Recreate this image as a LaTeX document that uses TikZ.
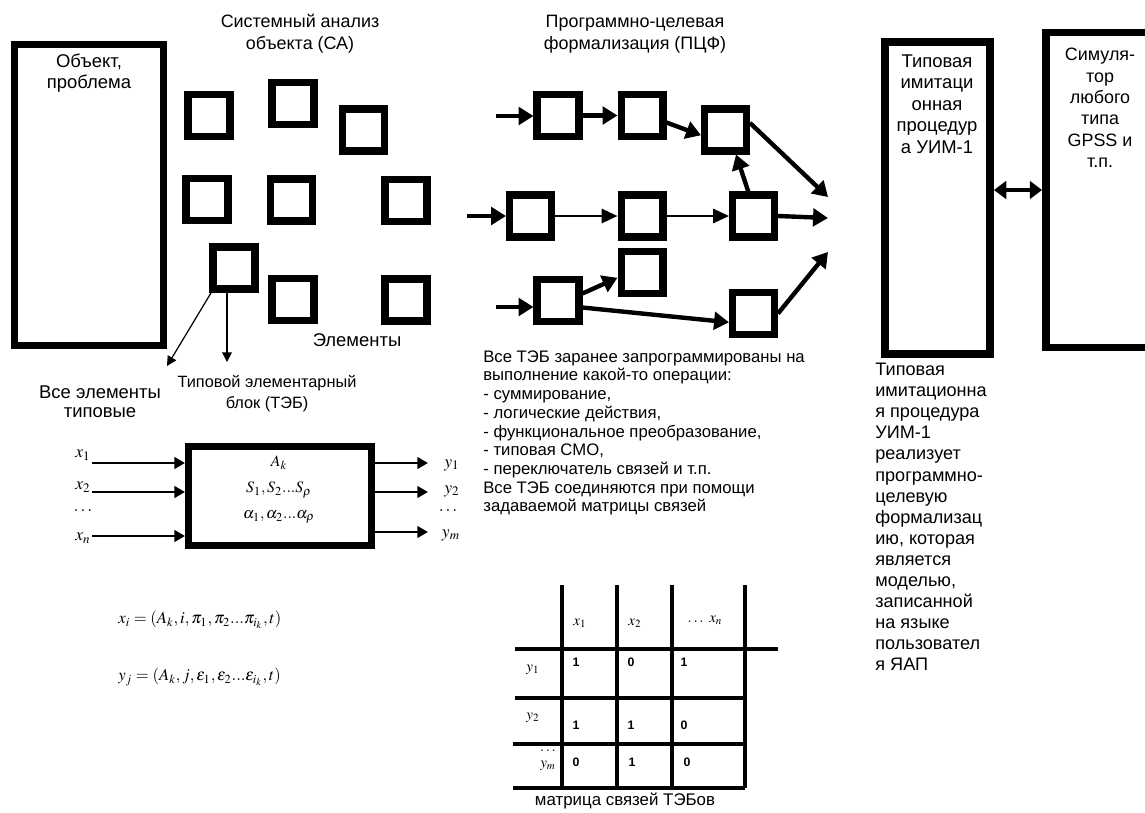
\documentclass[tikz,border=0pt]{standalone}
\usepackage{mathptmx}
\usepackage[no-math]{fontspec}
\setmainfont{Liberation Sans}
\usetikzlibrary{arrows.meta}
\begin{document}
\begin{tikzpicture}[x=0.02cm,y=-0.02cm,
  sq/.style={draw, line width=4pt, minimum width=0.84cm, minimum height=0.84cm, inner sep=0pt},
  bigbox/.style={draw, line width=4pt, inner sep=0pt},
  thickarr/.style={line width=2.5pt, -{Triangle[length=8.5pt,width=10pt]}},
  thinarr/.style={line width=1.5pt, -{Triangle[length=9pt,width=8pt]}},
  tebarr/.style={line width=1.5pt, -{Triangle[length=6pt,width=6.5pt]}},
  fine/.style={line width=0.7pt, -{Triangle[length=5.5pt,width=5.5pt]}},
  dbl/.style={line width=2pt, {Triangle[length=7pt,width=10pt]}-{Triangle[length=7pt,width=10pt]}},
  mline/.style={line width=2.2pt},
  ttl/.style={align=center, inner sep=0pt, font=\fontsize{10.2}{12.5}\selectfont},
  lbl/.style={inner sep=0pt, font=\fontsize{10.3}{12.2}\selectfont},
  mth/.style={inner sep=0pt, font=\fontsize{10}{12}\selectfont},
  sml/.style={inner sep=0pt, font=\fontsize{8.5}{10}\selectfont},
  dig/.style={inner sep=0pt, font=\fontsize{7}{8}\selectfont\bfseries}]
\clip (0,0) rectangle (1145,812);
\fill[white] (0,0) rectangle (1145,812);

% Object box
\node[bigbox, minimum width=2.99cm, minimum height=6.03cm] (obj) at (89,195) {};
\node[lbl, align=center, font=\fontsize{10.5}{12}\selectfont] (objt) at (89,73) {Объект,\\проблема};

% Titles
\node[ttl] (sa) at (300,34) {Системный анализ\\объекта (СА)};
\node[ttl] (pcf) at (635,34) {Программно-целевая\\формализация (ПЦФ)};

% Element squares
\node[sq] (e1) at (209,115.5) {};
\node[sq] (e2) at (293,103.5) {};
\node[sq] (e3) at (363.5,130) {};
\node[sq] (e4) at (207,199.5) {};
\node[sq] (e5) at (291.5,200) {};
\node[sq] (e6) at (406,200.5) {};
\node[sq] (e7) at (234,268) {};
\node[sq] (e8) at (293,299.5) {};
\node[sq] (e9) at (406,300) {};

\node[lbl, font=\fontsize{10.5}{12}\selectfont] (elem) at (357,340) {Элементы};
\coordinate (tA) at (167,366);
\coordinate (tB) at (227,362);
\draw[fine] ([xshift=1pt]e7.south west) -- (tA);
\draw[fine] (tB |- e7.south) -- (tB);
\node[lbl, align=center, font=\fontsize{10.5}{11}\selectfont] (allt) at (100,402) {Все элементы\\типовые};
\node[lbl, align=center, font=\fontsize{9.3}{11.9}\selectfont] (tebt) at (267,394) {Типовой элементарный\\блок (ТЭБ)};

% Graph squares
\node[sq] (A1) at (558,115.5) {};
\node[sq] (A2) at (642,115.5) {};
\node[sq] (A3) at (725.5,130) {};
\node[sq] (B1) at (530.5,216) {};
\node[sq] (B2) at (642,216) {};
\node[sq] (B3) at (753.5,216) {};
\node[sq] (C1) at (558,300.5) {};
\node[sq] (C2) at (642,272.5) {};
\node[sq] (C3) at (753.5,313.5) {};

\coordinate (inA) at (496,116);
\coordinate (inB) at (467,216);
\coordinate (inC) at (496,307);
\coordinate (oA) at (828,197);
\coordinate (oB) at (828,218);
\coordinate (oC) at (828,252);

\draw[thickarr] (inA) -- (inA -| A1.west);
\draw[thickarr] (inB) -- (inB -| B1.west);
\draw[thickarr] (inC) -- (inC -| C1.west);
\draw[thickarr] (A1.east) -- (A2.west);
\draw[thickarr] ([yshift=-4pt]A2.east) -- ([yshift=-3pt]A3.west);
\draw[thinarr] (B1.east) -- (B2.west);
\draw[thinarr] (B2.east) -- (B3.west);
\draw[thickarr] ([xshift=-3pt]B3.north) -- ([xshift=6pt]A3.south);
\draw[thickarr] ([yshift=4pt]C1.east) -- ([yshift=-3pt]C2.west);
\draw[thickarr] ([yshift=-4pt]C1.east) -- ([yshift=-5pt]C3.west);
\draw[thickarr] ([yshift=4pt]A3.east) -- (oA);
\draw[thickarr] (B3.east) -- (oB);
\draw[thickarr] (C3.east) -- (oC);

% Text block
\node[lbl, anchor=west, align=left, font=\fontsize{9.5}{10.65}\selectfont] (ops) at (483,433) {Все ТЭБ заранее запрограммированы на\\выполнение какой-то операции:\\- суммирование,\\- логические действия,\\- функциональное преобразование,\\- типовая СМО,\\- переключатель связей и т.п.\\Все ТЭБ соединяются при помощи\\задаваемой матрицы связей};

% UIM and simulator
\node[bigbox, line width=4.5pt, minimum width=2.1cm, minimum height=6.24cm] (uim) at (937.5,198) {};
\node[lbl, align=center, font=\fontsize{10.5}{12.3}\selectfont] (uimt) at (937,104) {Типовая\\имитаци\\онная\\процедур\\а УИМ-1};
\node[bigbox, line width=4.5pt, minimum width=2.16cm, minimum height=6.3cm] (sim) at (1100,190) {};
\node[lbl, align=center, font=\fontsize{10.2}{12.2}\selectfont] (simt) at (1100,108) {Симуля-\\тор\\любого\\типа\\GPSS и\\т.п.};
\draw[dbl] (sim.west -| uim.east) -- (sim.west);

\node[lbl, anchor=west, align=left, font=\fontsize{10.3}{12}\selectfont] (desc) at (875,517) {Типовая\\имитационна\\я процедура\\УИМ-1\\реализует\\программно-\\целевую\\формализац\\ию, которая\\является\\моделью,\\записанной\\на языке\\пользовател\\я ЯАП};

% TEB block
\node[bigbox, minimum width=3.66cm, minimum height=1.98cm] (teb) at (280,496) {};
\node[mth, font=\fontsize{9}{10}\selectfont] (ak) at (279,463) {$A_k$};
\node[mth, font=\fontsize{9}{10}\selectfont] (sk) at (279,490) {$S_1,S_2...S_\rho$};
\node[mth, font=\fontsize{9}{10}\selectfont] (al) at (279,517) {$\alpha_1,\alpha_2...\alpha_\rho$};
\node[mth] (lx1) at (83,455) {$x_1$};
\node[mth] (lx2) at (83,487) {$x_2$};
\node[mth] (ldx) at (83,511) {$\ldots$};
\node[mth] (lxn) at (83,538) {$x_n$};
\coordinate (x1s) at (92,463);
\coordinate (x2s) at (92,492);
\coordinate (xns) at (92,536);
\draw[tebarr] (x1s) -- (x1s -| teb.west);
\draw[tebarr] (x2s) -- (x2s -| teb.west);
\draw[tebarr] (xns) -- (xns -| teb.west);
\coordinate (y1e) at (428,463);
\coordinate (y2e) at (428,492);
\coordinate (yme) at (428,532);
\draw[tebarr] (y1e -| teb.east) -- (y1e);
\draw[tebarr] (y2e -| teb.east) -- (y2e);
\draw[tebarr] (yme -| teb.east) -- (yme);
\node[mth] (ly1) at (452,465) {$y_1$};
\node[mth] (ly2) at (452,491) {$y_2$};
\node[mth] (ldy) at (448,511) {$\ldots$};
\node[mth] (lym) at (451,535) {$y_m$};

% Formulas
\node[mth, anchor=west, font=\fontsize{9.5}{11}\selectfont] (fx) at (118,620) {$x_i=(A_k,i,\pi_1,\pi_2...\pi_{i_k},t)$};
\node[mth, anchor=west, font=\fontsize{9.5}{11}\selectfont] (fy) at (118,677) {$y_j=(A_k,j,\varepsilon_1,\varepsilon_2...\varepsilon_{i_k},t)$};

% Matrix
\draw[mline] (562,585) -- (562,788);
\draw[mline] (617,585) -- (617,788);
\draw[mline] (672,585) -- (672,788);
\draw[mline] (745,585) -- (745,788);
\draw[mline] (515,649) -- (778,649);
\draw[mline] (515,698) -- (745,698);
\draw[mline] (513,744) -- (745,744);
\draw[mline] (513,788) -- (745,788);
\node[sml] (hx1) at (580,623) {$x_1$};
\node[sml] (hx2) at (635,623) {$x_2$};
\node[sml] (hxn) at (705,620) {$\ldots\ x_n$};
\node[sml] (ry1) at (533,670) {$y_1$};
\node[sml] (ry2) at (533,718) {$y_2$};
\node[sml] (rdy) at (548,751) {$\ldots$};
\node[sml] (rym) at (548,766) {$y_m$};
\node[dig] (m11) at (576,662) {1};
\node[dig] (m12) at (631,662) {0};
\node[dig] (m13) at (684,662) {1};
\node[dig] (m21) at (576,725) {1};
\node[dig] (m22) at (631,725) {1};
\node[dig] (m23) at (684,725) {0};
\node[dig] (m31) at (576,762) {0};
\node[dig] (m32) at (632,762) {1};
\node[dig] (m33) at (687,762) {0};
\node[lbl, font=\fontsize{9.6}{11}\selectfont] (mcap) at (625,801) {матрица связей ТЭБов};
\end{tikzpicture}
\end{document}
